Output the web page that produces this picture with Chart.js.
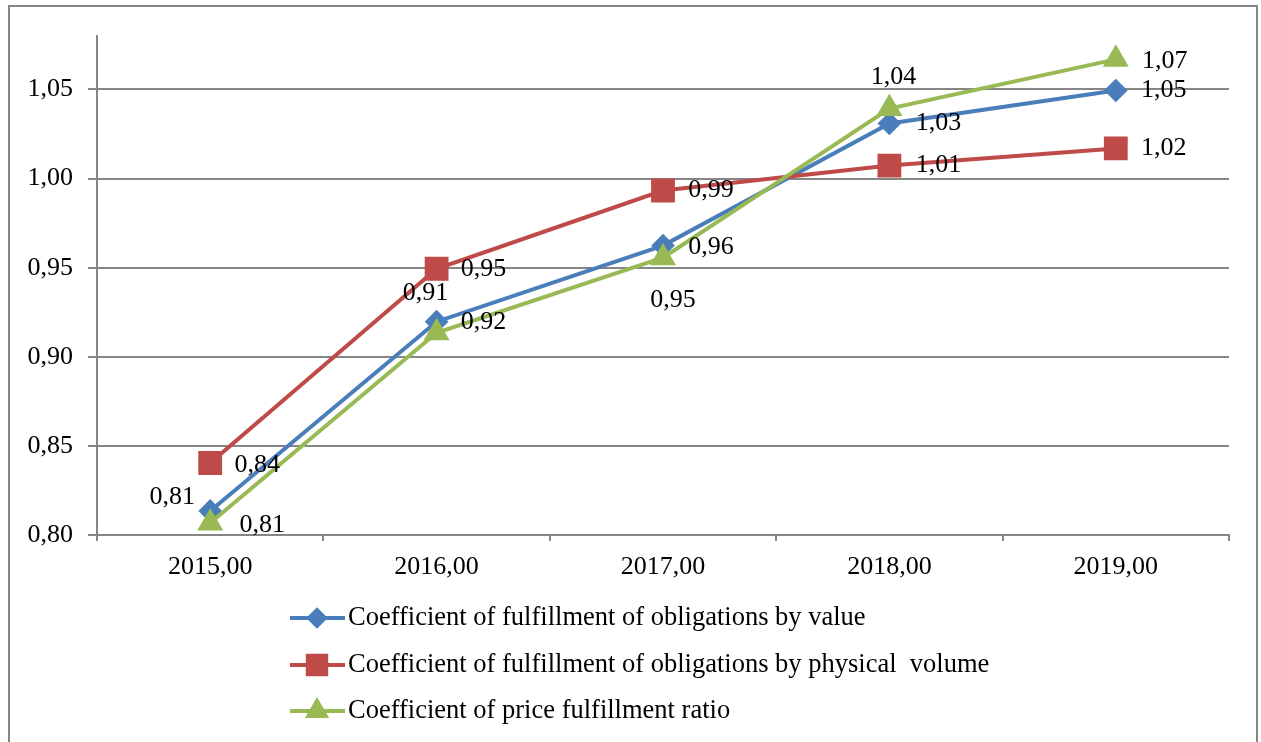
<!DOCTYPE html>
<html>
<head>
<meta charset="utf-8">
<script src="https://cdn.jsdelivr.net/npm/chart.js@4.4.1/dist/chart.umd.min.js"></script>
<style>
    html, body { margin: 0; padding: 0; background: #fff; }
    #wrap { width: 1261px; height: 742px; }
</style>
</head>
<body>
<div id="wrap"><canvas id="myChart"></canvas></div>
<script>
const years = ['2015,00', '2016,00', '2017,00', '2018,00', '2019,00'];
const yTicks = [0.80, 0.85, 0.90, 0.95, 1.00, 1.05];

const valueCoef = [0.8135, 0.9197, 0.9624, 1.0309, 1.0494];
const volumeCoef = [0.8404, 0.9494, 0.9933, 1.0073, 1.0169];
const priceCoef = [0.8067, 0.9135, 0.9556, 1.0393, 1.0669];

const valueLabels = ['0,81', '0,91', '0,96', '1,03', '1,05'];
const volumeLabels = ['0,84', '0,95', '0,99', '1,01', '1,02'];
const priceLabels = ['0,81', '0,92', '0,95', '1,04', '1,07'];

const seriesNames = [
    'Coefficient of fulfillment of obligations by value',
    'Coefficient of fulfillment of obligations by physical  volume',
    'Coefficient of price fulfillment ratio'
];

const FONT = 'Liberation Serif, Times New Roman, serif';
const FONT_SIZE = 26;

// where each data label sits relative to its point
const labelOffsets = [
    [[-38, -14], [-11, -29], [48, 2], [49, 0], [48, 0]],
    [[47, 2], [47, 0], [48, 0], [49, 0], [48, 0]],
    [[52, 2], [47, -11], [10, 42], [4, -31], [49, 2]]
];
const allLabels = [valueLabels, volumeLabels, priceLabels];

const dataLabels = {
    id: 'dataLabels',
    afterDatasetsDraw(chart) {
        const ctx = chart.ctx;
        ctx.save();
        ctx.font = FONT_SIZE + 'px ' + FONT;
        ctx.fillStyle = '#000';
        ctx.textAlign = 'center';
        ctx.textBaseline = 'middle';
        chart.data.datasets.forEach(function(ds, i) {
            const meta = chart.getDatasetMeta(i);
            meta.data.forEach(function(pt, j) {
                const off = labelOffsets[i][j];
                ctx.fillText(allLabels[i][j], pt.x + off[0], pt.y + off[1]);
            });
        });
        ctx.restore();
    }
};

const frameAndLegend = {
    id: 'frameAndLegend',
    beforeDraw(chart) {
        const ctx = chart.ctx;
        ctx.save();
        ctx.fillStyle = '#fff';
        ctx.fillRect(0, 0, chart.width, chart.height);
        ctx.strokeStyle = '#868686';
        ctx.lineWidth = 2;
        ctx.strokeRect(9, 6, 1248, 760);
        ctx.restore();
    },
    afterDraw(chart) {
        const ctx = chart.ctx;
        const rows = [618, 665, 711];
        ctx.save();
        chart.data.datasets.forEach(function(ds, i) {
            const y = rows[i];
            ctx.strokeStyle = ds.borderColor;
            ctx.lineWidth = 4;
            ctx.beginPath();
            ctx.moveTo(290, y);
            ctx.lineTo(345, y);
            ctx.stroke();
            ctx.fillStyle = ds.borderColor;
            Chart.helpers.drawPoint(ctx, {
                pointStyle: ds.pointStyle,
                radius: ds.pointRadius - 1,
                borderWidth: 1
            }, 317, y);
            ctx.fill();
            ctx.fillStyle = '#000';
            ctx.font = '26.5px ' + FONT;
            ctx.textAlign = 'left';
            ctx.textBaseline = 'middle';
            ctx.fillText(seriesNames[i], 348, y);
        });
        ctx.restore();
    }
};

document.addEventListener("DOMContentLoaded", function() {
    const ctx = document.getElementById('myChart');
    new Chart(ctx, {
        type: 'line',
        data: {
            labels: years,
            datasets: [{
                label: seriesNames[0],
                data: valueCoef,
                borderColor: '#4a7ebb',
                backgroundColor: '#4a7ebb',
                pointStyle: 'rectRot',
                pointRadius: 9,
                borderWidth: 4,
                order: 2
            }, {
                label: seriesNames[1],
                data: volumeCoef,
                borderColor: '#be4b48',
                backgroundColor: '#be4b48',
                pointStyle: 'rect',
                pointRadius: 14,
                borderWidth: 4,
                order: 1
            }, {
                label: seriesNames[2],
                data: priceCoef,
                borderColor: '#98b954',
                backgroundColor: '#98b954',
                pointStyle: 'triangle',
                pointRadius: 11,
                borderWidth: 4,
                order: 0
            }]
        },
        options: {
            responsive: true,
            maintainAspectRatio: false,
            animation: false,
            layout: {
                padding: { left: 10, top: 36, right: 32, bottom: 157 }
            },
            elements: {
                line: { tension: 0 },
                point: { borderWidth: 1, hoverRadius: 9 }
            },
            plugins: {
                legend: false,
                tooltip: { enabled: false }
            },
            scales: {
                x: {
                    offset: true,
                    grid: {
                        display: true,
                        drawOnChartArea: false,
                        offset: true,
                        tickLength: 6,
                        color: '#868686',
                        lineWidth: 2
                    },
                    border: { color: '#868686', width: 2 },
                    ticks: {
                        color: '#000',
                        padding: 11,
                        maxRotation: 0,
                        font: { family: FONT, size: FONT_SIZE }
                    },
                    afterFit: function(scale) { scale.height = 50; }
                },
                y: {
                    min: 0.80,
                    max: 1.08,
                    grid: {
                        color: '#868686',
                        lineWidth: 2,
                        tickLength: 9
                    },
                    border: { color: '#868686', width: 2 },
                    ticks: {
                        color: '#000',
                        padding: 15,
                        font: { family: FONT, size: FONT_SIZE },
                        callback: function(v) { return v.toFixed(2).replace('.', ','); }
                    },
                    afterBuildTicks: function(scale) {
                        scale.ticks = yTicks.map(function(v) { return { value: v }; });
                    },
                    afterFit: function(scale) { scale.width = 87; }
                }
            }
        },
        plugins: [frameAndLegend, dataLabels]
    });
});
</script>
</body>
</html>
